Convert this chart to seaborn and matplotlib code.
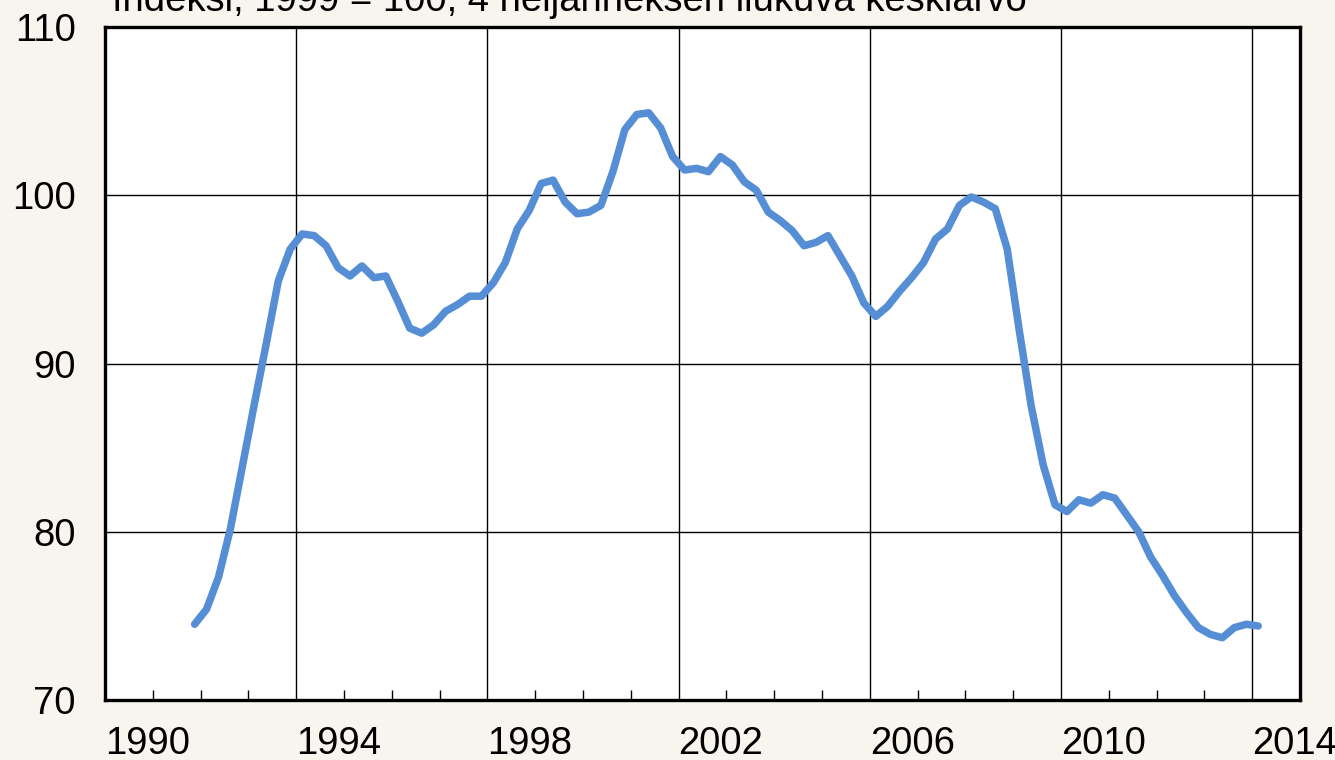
import matplotlib
matplotlib.use("Agg")
import matplotlib.pyplot as plt
import numpy as np
import pandas as pd
import seaborn as sns
from matplotlib.ticker import MultipleLocator

# 4 quarter moving average, plotted at mid-quarter, 1991Q4 .. 2014Q1
first_quarter = 1991.875
index_values = [
    74.5, 75.4, 77.3, 80.2, 83.9, 87.6, 91.2, 94.9, 96.8, 97.7,
    97.6, 97.0, 95.7, 95.2, 95.8, 95.1, 95.2, 93.7, 92.1, 91.8,
    92.3, 93.1, 93.5, 94.0, 94.0, 94.8, 96.0, 98.0, 99.1, 100.7,
    100.9, 99.6, 98.9, 99.0, 99.4, 101.4, 103.9, 104.8, 104.9, 104.0,
    102.3, 101.5, 101.6, 101.4, 102.3, 101.8, 100.8, 100.3, 99.0, 98.5,
    97.9, 97.0, 97.2, 97.6, 96.4, 95.2, 93.6, 92.8, 93.4, 94.3,
    95.1, 96.0, 97.4, 98.0, 99.4, 99.9, 99.6, 99.2, 96.8, 92.0,
    87.5, 84.0, 81.6, 81.2, 81.9, 81.7, 82.2, 82.0, 81.0, 80.0,
    78.5, 77.4, 76.2, 75.2, 74.3, 73.9, 73.7, 74.3, 74.5, 74.4,
]
years = [first_quarter + 0.25 * i for i in range(len(index_values))]
year_ticks = [1990, 1994, 1998, 2002, 2006, 2010, 2014]
value_ticks = [70, 80, 90, 100, 110]
title = "Indeksi, 1999 = 100, 4 neljänneksen liukuva keskiarvo"

df = pd.DataFrame({"year": years, "index": index_values})

sns.set_theme(style="white")
plt.rcParams["font.family"] = ["Liberation Sans", "DejaVu Sans"]
plt.rcParams.update({"text.color": "black", "xtick.color": "black",
                     "ytick.color": "black", "axes.labelcolor": "black"})

bg = "#f8f4ee"
fs = 27.5
fig = plt.figure(figsize=(13.35, 7.6), dpi=100, facecolor=bg)
ax = fig.add_axes([105 / 1335, 1 - 700 / 760, 1195 / 1335, 673 / 760])
ax.set_facecolor("white")

sns.lineplot(data=df, x="year", y="index", ax=ax, color="#558ed5",
             linewidth=5.4, solid_capstyle="round", zorder=3)

ax.set_xlim(1990, 2015)
ax.set_ylim(70, 110)
ax.set_xticks(year_ticks)
ax.set_yticks(value_ticks)
ax.xaxis.set_minor_locator(MultipleLocator(1))
ax.grid(True, which="major", color="black", linewidth=1.0)
ax.set_axisbelow(True)

for s in ax.spines.values():
    s.set_color("black")
    s.set_linewidth(2.4)

ax.tick_params(axis="x", which="major", direction="in", length=7, width=1,
               pad=19, labelsize=fs)
ax.tick_params(axis="x", which="minor", direction="in", length=7, width=1,
               bottom=True)
ax.tick_params(axis="y", which="major", length=0, pad=21, labelsize=fs)
for lab in ax.get_xticklabels():
    lab.set_horizontalalignment("left")

ax.set_xlabel("")
ax.set_ylabel("")

fig.text(112 / 1335, 1 - 11 / 760, title, fontsize=fs, ha="left",
         va="baseline")

fig.savefig("out.png", dpi=100, facecolor=bg)
plt.close(fig)
